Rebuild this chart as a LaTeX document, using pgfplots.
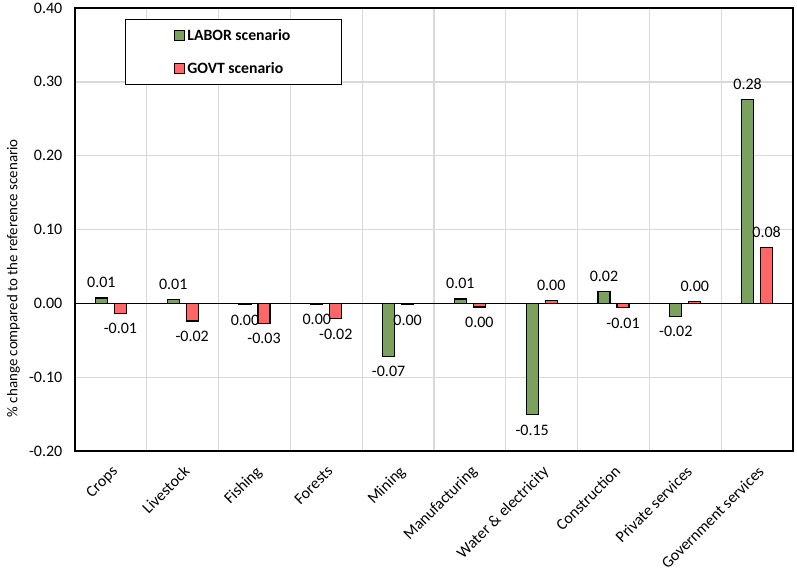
\documentclass[border=0pt]{standalone}
\usepackage{fontspec}
\setmainfont{Carlito}
\usepackage{pgfplots}
\pgfplotsset{compat=1.18}
\usepackage{pgfplotstable}
\definecolor{barGreen}{HTML}{7AA25C}
\definecolor{barRed}{HTML}{FF6666}
\definecolor{gridGray}{HTML}{D9D9D9}

\pgfplotstableread{
x y label
0 0.0073 0.01
1 0.005 0.01
2 -0.002 0.00
3 -0.001 0.00
4 -0.072 -0.07
5 0.006 0.01
6 -0.151 -0.15
7 0.016 0.02
8 -0.018 -0.02
9 0.276 0.28
}\labor

\pgfplotstableread{
x y label
0 -0.014 -0.01
1 -0.024 -0.02
2 -0.027 -0.03
3 -0.021 -0.02
4 -0.002 0.00
5 -0.005 0.00
6 0.004 0.00
7 -0.006 -0.01
8 0.002 0.00
9 0.076 0.08
}\govt

\begin{document}
\begin{tikzpicture}
\begin{axis}[
  name=ax,
  scale only axis,
  width=538.5pt, height=332.25pt,
  xmin=-0.5, xmax=9.5,
  ymin=-0.2, ymax=0.4,
  ytick={-0.2,-0.1,0,0.1,0.2,0.3,0.4},
  ybar=5.25pt, bar width=9pt,
  axis line style={black, line width=1.2pt},
  grid style={gridGray, line width=1pt},
  ymajorgrids,
  xtick={0,1,2,3,4,5,6,7,8,9},
  xticklabels={Crops,Livestock,Fishing,Forests,Mining,Manufacturing,Water \& electricity,Construction,Private services,Government services},
  minor xtick={0.5,1.5,2.5,3.5,4.5,5.5,6.5,7.5,8.5},
  xminorgrids,
  major tick length=0pt, minor tick length=0pt,
  x tick label style={rotate=45, anchor=north east, inner sep=1.5pt, font=\fontsize{12}{14}\selectfont},
  xticklabel shift=8pt,
  y tick label style={font=\fontsize{12}{14}\selectfont, xshift=-6pt},
  yticklabel style={/pgf/number format/.cd, fixed, fixed zerofill, precision=2, assume math mode=true},
  ylabel={\% change compared to the reference scenario},
  ylabel style={font=\fontsize{11.2}{13}\selectfont, at={(ticklabel cs:0.39)}},
  extra y ticks={0}, extra y tick labels={},
  extra y tick style={grid style={black, line width=1pt}},
  nodes near coords={\pgfplotspointmeta},
  point meta=explicit symbolic,
  visualization depends on={rawy \as \rawy},
  nodes near coords style={font=\fontsize{12}{14}\selectfont, inner sep=7pt,
    /utils/exec={\ifdim\rawy pt<0pt \gdef\myanch{north}\else\gdef\myanch{south}\fi},
    anchor=\myanch},
  legend style={at={(axis description cs:0.0696,0.975)}, anchor=north west,
    draw=black, line width=1pt, fill=white,
    font=\bfseries\fontsize{11.8}{13}\selectfont,
    row sep=11pt, inner xsep=36.5pt, inner ysep=5pt},
  legend cell align=left,
]
\addplot[fill=barGreen, draw=black, line width=0.9pt,
  legend image code/.code={\draw[fill=barGreen, draw=black, line width=0.8pt] (0pt,-3.5pt) rectangle (7pt,3.5pt);}]
  table[x=x, y=y, meta=label] {\labor};
\addlegendentry{LABOR scenario}
\addplot[fill=barRed, draw=black, line width=0.9pt,
  legend image code/.code={\draw[fill=barRed, draw=black, line width=0.8pt] (0pt,-3.5pt) rectangle (7pt,3.5pt);}]
  table[x=x, y=y, meta=label] {\govt};
\addlegendentry{GOVT scenario}
\end{axis}
\pgfresetboundingbox
\path[use as bounding box] ([xshift=-56.25pt, yshift=-92.25pt]ax.south west) rectangle ([xshift=3pt, yshift=6pt]ax.north east);
\end{tikzpicture}
\end{document}
